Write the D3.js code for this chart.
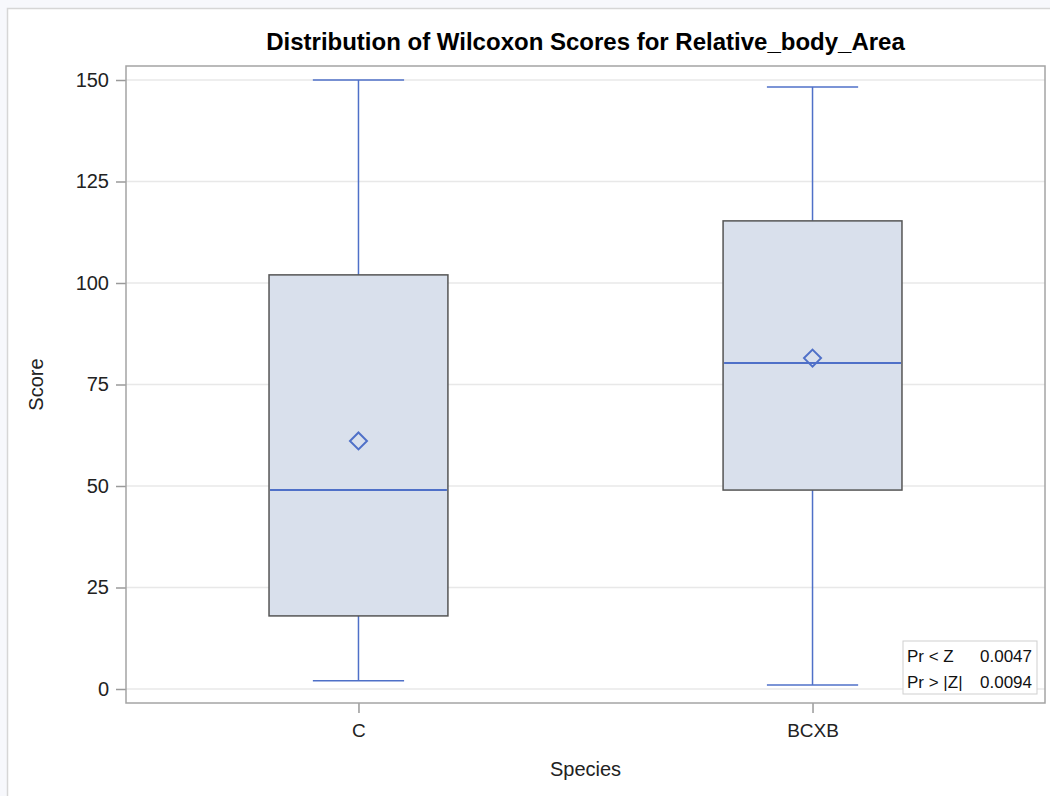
<!DOCTYPE html>
<html><head><meta charset="utf-8">
<script src="https://cdn.jsdelivr.net/npm/d3@7"></script>
<style>
html,body{margin:0;padding:0;background:#f7f8fc;}
svg{display:block;}
text{font-family:"Liberation Sans",Arial,sans-serif;}
</style></head>
<body>
<script>
const categories = ["C", "BCXB"];
const minVals    = [2, 1];
const q1Vals     = [18, 49];
const medianVals = [49, 80.3];
const q3Vals     = [102, 115.3];
const maxVals    = [150, 148.3];
const meanVals   = [61.1, 81.5];
const yTicks     = [0, 25, 50, 75, 100, 125, 150];
const statLabels = ["Pr < Z", "Pr > |Z|"];
const statValues = ["0.0047", "0.0094"];

const W = 1050, H = 796;
const svg = d3.select("body").append("svg").attr("width", W).attr("height", H);

// outer white panel with light frame
svg.append("rect").attr("x", 7.5).attr("y", 8.5).attr("width", W + 10).attr("height", H + 10)
  .attr("fill", "#ffffff").attr("stroke", "#d6d6d6").attr("stroke-width", 1.5);

const L = 126, R = 1045, T = 66, B = 703;
const y = d3.scaleLinear().domain([-3.45, 153.45]).range([B, T]);
const x = d3.scalePoint().domain(categories).range([L, R]).padding(0.512);
const boxW = x.step() * 0.394;
const capW = boxW * 0.51;

// gridlines
svg.append("g").selectAll("line").data(yTicks).join("line")
  .attr("x1", L).attr("x2", R).attr("y1", d => y(d)).attr("y2", d => y(d))
  .attr("stroke", "#e8e8e8").attr("stroke-width", 1.5);

// axes
const yAxis = d3.axisLeft(y).tickValues(yTicks).tickSize(10).tickPadding(7);
const gy = svg.append("g").attr("transform", `translate(${L},0)`).call(yAxis);
gy.select(".domain").remove();
gy.selectAll(".tick line").attr("stroke", "#9a9a9a").attr("stroke-width", 1.5);
gy.selectAll(".tick text").attr("font-size", 20).attr("fill", "#222").attr("font-family", "'Liberation Sans',Arial,sans-serif");

const xAxis = d3.axisBottom(x).tickSize(10).tickPadding(11);
const gx = svg.append("g").attr("transform", `translate(0,${B})`).call(xAxis);
gx.select(".domain").remove();
gx.selectAll(".tick line").attr("stroke", "#9a9a9a").attr("stroke-width", 1.5);
gx.selectAll(".tick text").attr("font-size", 19).attr("fill", "#222").attr("font-family", "'Liberation Sans',Arial,sans-serif");

// boxes
const blue = "#4f70c8";
const g = svg.append("g");
categories.forEach((c, i) => {
  const cx = x(c);
  g.append("line").attr("x1", cx).attr("x2", cx).attr("y1", y(maxVals[i])).attr("y2", y(q3Vals[i]))
    .attr("stroke", blue).attr("stroke-width", 1.5);
  g.append("line").attr("x1", cx).attr("x2", cx).attr("y1", y(q1Vals[i])).attr("y2", y(minVals[i]))
    .attr("stroke", blue).attr("stroke-width", 1.5);
  g.append("line").attr("x1", cx - capW / 2).attr("x2", cx + capW / 2).attr("y1", y(maxVals[i])).attr("y2", y(maxVals[i]))
    .attr("stroke", blue).attr("stroke-width", 1.5);
  g.append("line").attr("x1", cx - capW / 2).attr("x2", cx + capW / 2).attr("y1", y(minVals[i])).attr("y2", y(minVals[i]))
    .attr("stroke", blue).attr("stroke-width", 1.5);
  g.append("rect").attr("x", cx - boxW / 2).attr("y", y(q3Vals[i]))
    .attr("width", boxW).attr("height", y(q1Vals[i]) - y(q3Vals[i]))
    .attr("fill", "#d9e0ec").attr("stroke", "#555555").attr("stroke-width", 1.5);
  g.append("line").attr("x1", cx - boxW / 2 + 1).attr("x2", cx + boxW / 2 - 1)
    .attr("y1", y(medianVals[i])).attr("y2", y(medianVals[i]))
    .attr("stroke", blue).attr("stroke-width", 2);
  const my = y(meanVals[i]), s = 8.5;
  g.append("path").attr("d", `M${cx},${my - s}L${cx + s},${my}L${cx},${my + s}L${cx - s},${my}Z`)
    .attr("fill", "none").attr("stroke", blue).attr("stroke-width", 2);
});

// plot frame
svg.append("rect").attr("x", L).attr("y", T).attr("width", R - L).attr("height", B - T)
  .attr("fill", "none").attr("stroke", "#a4a4a4").attr("stroke-width", 1.5);

// stats inset
const ix = 903, iy = 641, iw = 134, ih = 53;
svg.append("rect").attr("x", ix).attr("y", iy).attr("width", iw).attr("height", ih)
  .attr("fill", "#ffffff").attr("stroke", "#cfcfcf").attr("stroke-width", 1);
statLabels.forEach((lab, i) => {
  svg.append("text").attr("x", ix + 4).attr("y", iy + 21 + i * 26).attr("font-size", 17).attr("fill", "#111").text(lab);
  svg.append("text").attr("x", ix + iw - 5).attr("y", iy + 21 + i * 26).attr("font-size", 17).attr("fill", "#111")
    .attr("text-anchor", "end").text(statValues[i]);
});

// title and axis labels
svg.append("text").attr("x", (L + R) / 2).attr("y", 50).attr("text-anchor", "middle")
  .attr("font-size", 24).attr("font-weight", "bold").attr("fill", "#000")
  .text("Distribution of Wilcoxon Scores for Relative_body_Area");
svg.append("text").attr("x", (L + R) / 2).attr("y", 776).attr("text-anchor", "middle")
  .attr("font-size", 20).attr("fill", "#222").text("Species");
svg.append("text").attr("transform", `translate(43,${(T + B) / 2}) rotate(-90)`).attr("text-anchor", "middle")
  .attr("font-size", 20).attr("fill", "#222").text("Score");
</script>
</body></html>
